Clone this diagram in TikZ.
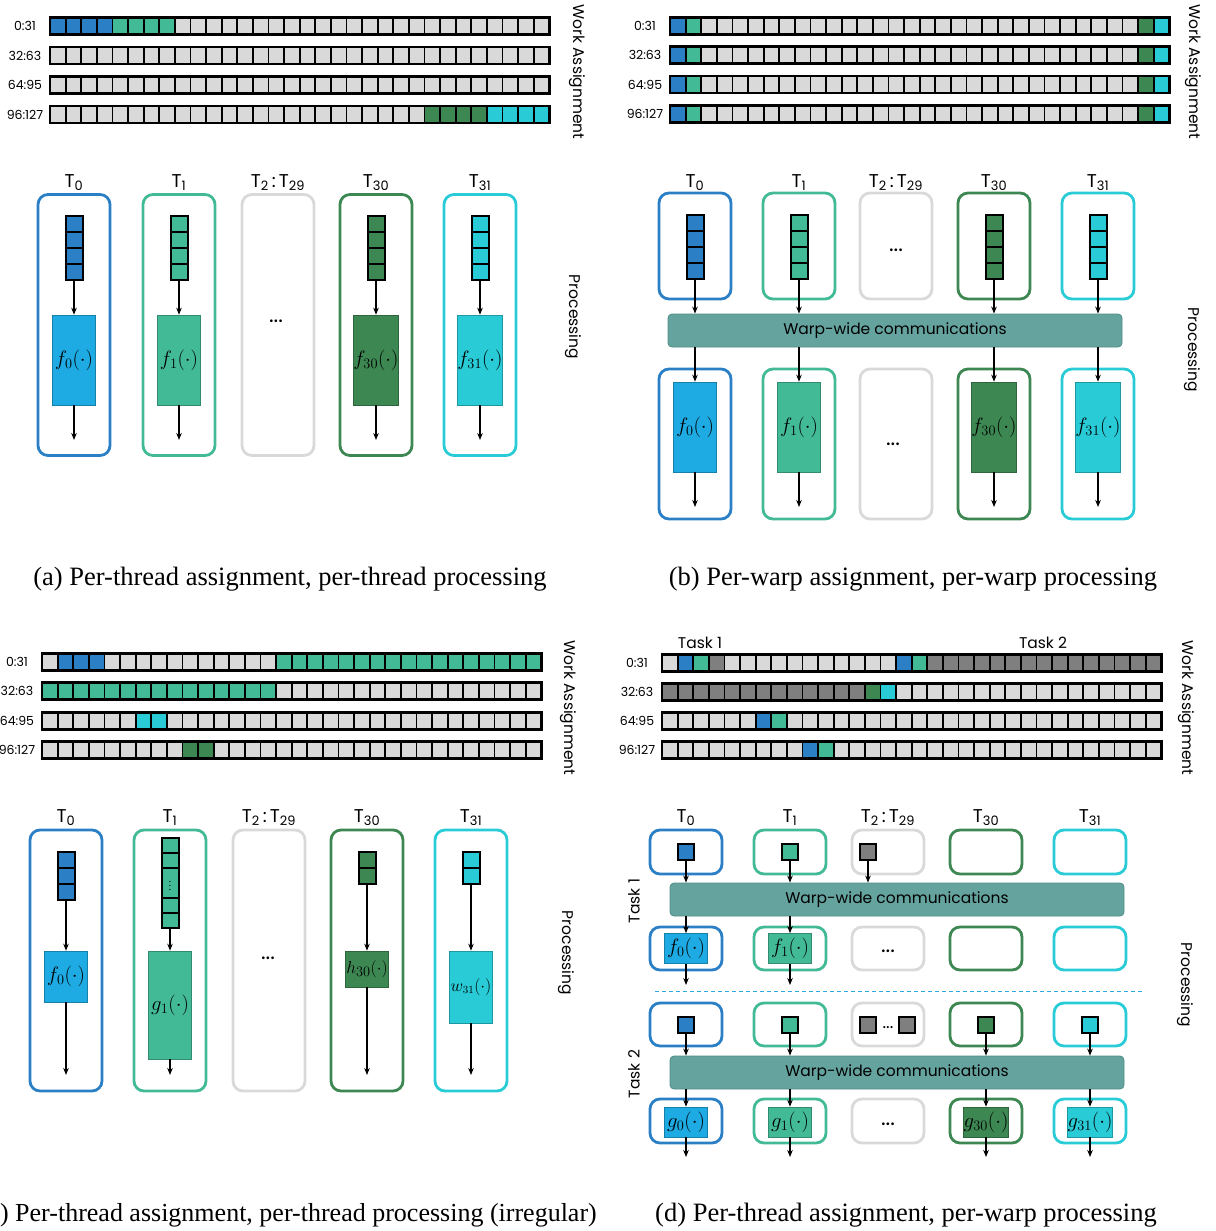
\documentclass[tikz,border=0pt]{standalone}
\usepackage{fontspec}
\setmainfont{Liberation Serif}
\newfontfamily\gfont{Poppins}
\usepackage{amsmath}
\usepackage{xcolor}
\usetikzlibrary{arrows.meta}
\definecolor{thblue}{HTML}{2A7FC5}
\definecolor{thsky}{HTML}{1EAAE2}
\definecolor{thteal}{HTML}{43BA96}
\definecolor{thgreen}{HTML}{3D8752}
\definecolor{thcyan}{HTML}{28CBD6}
\definecolor{thgrey}{HTML}{D9D9D9}
\definecolor{thdark}{HTML}{7F7F7F}
\definecolor{warpfill}{HTML}{65A39F}
\definecolor{warpedge}{HTML}{4F8D88}
\definecolor{dashblue}{HTML}{2AA8E0}
% one row of 32 work items: name, left x, centre y, label, coloured runs a/b/colour
\newcommand{\workbar}[5]{%
  \node[rowlab] (#1lab) at (#2-25,#3) {#4};
  \foreach \i in {0,...,31}
    \node[wcell] (#1c\i) at ({#2+7.8+15.6*\i},#3) {};
  \foreach \a/\b/\c in {#5}
    \foreach \i in {\a,...,\b}
      \node[wcell, fill=\c] (#1c\i) at ({#2+7.8+15.6*\i},#3) {};
  \draw[barframe] (#1c0.north west) rectangle (#1c31.south east);
}

\begin{document}
\begin{tikzpicture}[x=1pt, y=-1pt,
  wcell/.style={rectangle, draw=black, line width=1.8pt, fill=thgrey, minimum width=15.6pt,
                minimum height=17pt, inner sep=0pt, outer sep=0pt},
  barframe/.style={draw=black, line width=2.6pt},
  rowlab/.style={font=\gfont\fontsize{12.5}{13}\selectfont, inner sep=0pt},
  sidelab/.style={font=\gfont\fontsize{15.5}{16}\selectfont, inner sep=0pt},
  tlab/.style={font=\gfont\fontsize{18.5}{19}\selectfont, anchor=base, inner sep=0pt},
  tframe/.style={draw, rounded corners=10pt, line width=2.8pt, minimum width=72pt, inner sep=0pt},
  ucell/.style={draw=black, line width=2pt, minimum width=17pt, minimum height=16pt,
                inner sep=0pt, outer sep=0pt},
  fbox/.style={draw=#1!75!black, fill=#1, line width=0.6pt, minimum width=43pt, inner sep=0pt},
  fbig/.style={font=\fontsize{21}{21}\selectfont},
  fsmall/.style={font=\fontsize{20}{20}\selectfont},
  warp/.style={draw=warpedge, fill=warpfill, rounded corners=4pt, line width=0.8pt,
               minimum width=454pt, minimum height=33pt, font=\gfont\fontsize{15.5}{16}\selectfont},
  arr/.style={-{Stealth[length=7pt, width=5.5pt]}, line width=1.3pt},
  dots/.style={font=\gfont\fontsize{22}{22}\selectfont, inner sep=0pt},
  dashline/.style={dashblue, line width=1pt, dash pattern=on 4pt off 3pt},
  caption/.style={font=\fontsize{26.5}{30}\selectfont, inner sep=0pt},
]
\useasboundingbox (0,0) rectangle (1215,1231);

% (a) per-thread assignment, per-thread processing
\workbar{aR0}{50}{26}{0:31}{0/3/thblue, 4/7/thteal}
\workbar{aR1}{50}{55.5}{32:63}{0/0/thgrey}
\workbar{aR2}{50}{85}{64:95}{0/0/thgrey}
\workbar{aR3}{50}{114.5}{96:127}{24/27/thgreen, 28/31/thcyan}
\node[sidelab, rotate=-90] (aWA) at (577,72) {Work Assignment};
\node[sidelab, rotate=-90] (aPR) at (573,317) {Processing};
\foreach \n/\x/\c/\fc/\f/\s in {0/74/thblue/thsky/f_0/fbig, 1/179/thteal/thteal/f_1/fbig,
    30/376/thgreen/thgreen/f_{30}/fsmall, 31/480/thcyan/thcyan/f_{31}/fsmall} {
  \node[tlab] (aT\n) at (\x,187) {T\textsubscript{\n}};
  \node[tframe, draw=\c, minimum height=261pt] (aF\n) at (\x,325) {};
  \foreach \k in {0,...,3}
    \node[ucell, fill=\c] (aS\n-\k) at (\x,{224+16*\k}) {};
  \node[fbox=\fc, \s, minimum height=90pt] (aP\n) at (\x,360) {$\f(\cdot)$};
  \coordinate (aE\n) at (\x,440);
  \draw[arr] (aS\n-3.south) -- (aP\n.north);
  \draw[arr] (aP\n.south) -- (aE\n);
}
\node[tlab] (aT2) at (278,187) {T\textsubscript{2}\,:\,T\textsubscript{29}};
\node[tframe, draw=thgrey, minimum height=261pt] (aF2) at (278,325) {};
\node[dots] (aD2) at (276,321) {...};
\node[caption] (aCap) at (290,579) {(a) Per-thread assignment, per-thread processing};

% (b) per-warp assignment, per-warp processing
\workbar{bR0}{670}{26}{0:31}{0/0/thblue, 1/1/thteal, 30/30/thgreen, 31/31/thcyan}
\workbar{bR1}{670}{55}{32:63}{0/0/thblue, 1/1/thteal, 30/30/thgreen, 31/31/thcyan}
\workbar{bR2}{670}{84.5}{64:95}{0/0/thblue, 1/1/thteal, 30/30/thgreen, 31/31/thcyan}
\workbar{bR3}{670}{114}{96:127}{0/0/thblue, 1/1/thteal, 30/30/thgreen, 31/31/thcyan}
\node[sidelab, rotate=-90] (bWA) at (1193,72) {Work Assignment};
\node[sidelab, rotate=-90] (bPR) at (1192,350) {Processing};
\node[warp] (bW) at (895,330.5) {Warp-wide communications};
\foreach \n/\x/\c/\fc/\f/\s in {0/695/thblue/thsky/f_0/fbig, 1/799/thteal/thteal/f_1/fbig,
    30/994/thgreen/thgreen/f_{30}/fsmall, 31/1098/thcyan/thcyan/f_{31}/fsmall} {
  \node[tlab] (bT\n) at (\x,187) {T\textsubscript{\n}};
  \node[tframe, draw=\c, minimum height=106pt] (bF\n) at (\x,246) {};
  \foreach \k in {0,...,3}
    \node[ucell, fill=\c] (bS\n-\k) at (\x,{223+16*\k}) {};
  \node[tframe, draw=\c, minimum height=150pt] (bG\n) at (\x,444) {};
  \node[fbox=\fc, \s, minimum height=90pt] (bP\n) at (\x,427) {$\f(\cdot)$};
  \coordinate (bE\n) at (\x,507);
  \draw[arr] (bS\n-3.south) -- (bS\n-3.south |- bW.north);
  \draw[arr] (bP\n.north |- bW.south) -- (bP\n.north);
  \draw[arr] (bP\n.south) -- (bE\n);
}
\node[tlab] (bT2) at (896,187) {T\textsubscript{2}\,:\,T\textsubscript{29}};
\node[tframe, draw=thgrey, minimum height=106pt] (bF2) at (896,246) {};
\node[tframe, draw=thgrey, minimum height=150pt] (bG2) at (896,444) {};
\node[dots] (bD2) at (896,250) {...};
\node[dots] (bD3) at (893,444) {...};
\node[caption] (bCap) at (913,579) {(b) Per-warp assignment, per-warp processing};

% (c) per-thread processing, irregular work
\workbar{cR0}{42}{662}{0:31}{1/3/thblue, 15/31/thteal}
\workbar{cR1}{42}{691}{32:63}{0/14/thteal}
\workbar{cR2}{42}{721}{64:95}{6/7/thcyan}
\workbar{cR3}{42}{750}{96:127}{9/10/thgreen}
\node[sidelab, rotate=-90] (cWA) at (568,708) {Work Assignment};
\node[sidelab, rotate=-90] (cPR) at (566,953) {Processing};
\foreach \n/\x/\c in {0/66/thblue, 1/170/thteal, 30/367/thgreen, 31/471/thcyan} {
  \node[tlab] (cT\n) at (\x,822) {T\textsubscript{\n}};
  \node[tframe, draw=\c, minimum height=261pt] (cF\n) at (\x,960.5) {};
  \coordinate (cE\n) at (\x,1075);
}
\node[tlab] (cT2) at (269,822) {T\textsubscript{2}\,:\,T\textsubscript{29}};
\node[tframe, draw=thgrey, minimum height=261pt] (cF2) at (269,960.5) {};
\node[dots] (cD2) at (268,958) {...};
% T0: three items
\foreach \k in {0,1,2}
  \node[ucell, fill=thblue] (cS0-\k) at (66,{860+16*\k}) {};
\node[fbox=thsky, fbig, minimum height=51pt] (cP0) at (66,976.5) {$f_0(\cdot)$};
\draw[arr] (cS0-2.south) -- (cP0.north);
\draw[arr] (cP0.south) -- (cE0);
% T1: long list
\node[ucell, fill=thteal, minimum height=15pt] (cS1-0) at (170,845.5) {};
\node[ucell, fill=thteal, minimum height=15pt] (cS1-1) at (170,860.5) {};
\node[ucell, fill=thteal, minimum height=30pt] (cS1-2) at (170,883) {};
\node[font=\fontsize{11}{11}\selectfont, inner sep=0pt] (cV1) at (cS1-2) {$\vdots$};
\node[ucell, fill=thteal, minimum height=15pt] (cS1-3) at (170,905.5) {};
\node[ucell, fill=thteal, minimum height=15pt] (cS1-4) at (170,920.5) {};
\node[fbox=thteal, fbig, minimum height=108pt] (cP1) at (170,1005) {$g_1(\cdot)$};
\draw[arr] (cS1-4.south) -- (cP1.north);
\draw[arr] (cP1.south) -- (cE1);
% T30 and T31: two items
\foreach \k in {0,1} {
  \node[ucell, fill=thgreen] (cS30-\k) at (367,{860+16*\k}) {};
  \node[ucell, fill=thcyan] (cS31-\k) at (471,{860+16*\k}) {};
}
\node[fbox=thgreen, minimum height=36pt, font=\fontsize{19}{19}\selectfont] (cP30) at (367,969) {$h_{30}(\cdot)$};
\node[fbox=thcyan, minimum height=72pt, font=\fontsize{16}{16}\selectfont] (cP31) at (471,987) {$w_{31}(\cdot)$};
\draw[arr] (cS30-1.south) -- (cP30.north);
\draw[arr] (cP30.south) -- (cE30);
\draw[arr] (cS31-1.south) -- (cP31.north);
\draw[arr] (cP31.south) -- (cE31);
\node[caption, anchor=east, font=\fontsize{26}{30}\selectfont] (cCap) at (597,1215) {(c) Per-thread assignment, per-thread processing (irregular)};

% (d) per-thread assignment, per-warp processing
\workbar{dR0}{662}{663}{0:31}{1/1/thblue, 2/2/thteal, 3/3/thdark, 15/15/thblue, 16/16/thteal, 17/31/thdark}
\workbar{dR1}{662}{692}{32:63}{0/12/thdark, 13/13/thgreen, 14/14/thcyan}
\workbar{dR2}{662}{721}{64:95}{6/6/thblue, 7/7/thteal}
\workbar{dR3}{662}{750}{96:127}{9/9/thblue, 10/10/thteal}
\node[sidelab] (dK1) at (700,643) {Task 1};
\node[sidelab] (dK2) at (1043,643) {Task 2};
\node[sidelab, rotate=-90] (dWA) at (1186,708) {Work Assignment};
\node[sidelab, rotate=-90] (dPR) at (1185,985) {Processing};
\node[sidelab, rotate=90] (dL1) at (634,901) {Task 1};
\node[sidelab, rotate=90] (dL2) at (634,1074) {Task 2};
\foreach \n/\x/\c in {0/686/thblue, 1/790/thteal, 2/888/thgrey, 30/986/thgreen, 31/1090/thcyan} {
  \node[tframe, draw=\c, minimum height=44pt] (dA\n) at (\x,852) {};
  \node[tframe, draw=\c, minimum height=43pt] (dB\n) at (\x,948.5) {};
  \node[tframe, draw=\c, minimum height=43pt] (dC\n) at (\x,1024.5) {};
  \node[tframe, draw=\c, minimum height=44pt] (dD\n) at (\x,1121) {};
}
\node[tlab] (dT0) at (686,822) {T\textsubscript{0}};
\node[tlab] (dT1) at (790,822) {T\textsubscript{1}};
\node[tlab] (dT2) at (888,822) {T\textsubscript{2}\,:\,T\textsubscript{29}};
\node[tlab] (dT30) at (986,822) {T\textsubscript{30}};
\node[tlab] (dT31) at (1090,822) {T\textsubscript{31}};
\node[warp] (dW1) at (897,899.5) {Warp-wide communications};
\node[warp] (dW2) at (897,1072.5) {Warp-wide communications};
% task 1
\node[ucell, fill=thblue, minimum width=16pt] (dQ0) at (686,852) {};
\node[ucell, fill=thteal, minimum width=16pt] (dQ1) at (790,852) {};
\node[ucell, fill=thdark, minimum width=16pt] (dQ2) at (868,852) {};
\foreach \n in {0,1,2}
  \draw[arr] (dQ\n.south) -- (dQ\n.south |- dW1.north);
\node[fbox=thsky, fbig, minimum height=30pt] (dP0) at (686,948.5) {$f_0(\cdot)$};
\node[fbox=thteal, fbig, minimum height=30pt] (dP1) at (790,948.5) {$f_1(\cdot)$};
\node[dots] (dD1) at (888,951) {...};
\foreach \n/\x in {0/686, 1/790} {
  \coordinate (dE\n) at (\x,985);
  \draw[arr] (dP\n.north |- dW1.south) -- (dP\n.north);
  \draw[arr] (dP\n.south) -- (dE\n);
}
\coordinate (dashL) at (655,991);
\coordinate (dashR) at (1145,991);
\draw[dashline] (dashL) -- (dashR);
% task 2
\node[ucell, fill=thdark, minimum width=16pt] (dU2a) at (868,1025) {};
\node[ucell, fill=thdark, minimum width=16pt] (dU2b) at (907,1025) {};
\node[dots, font=\gfont\fontsize{17}{17}\selectfont] (dD2) at (888,1028) {...};
\node[dots] (dD3) at (888,1124) {...};
\foreach \n/\x/\c/\fc/\f/\s in {0/686/thblue/thsky/g_0/fbig, 1/790/thteal/thteal/g_1/fbig,
    30/986/thgreen/thgreen/g_{30}/fsmall, 31/1090/thcyan/thcyan/g_{31}/fsmall} {
  \node[ucell, fill=\c, minimum width=16pt] (dU\n) at (\x,1025) {};
  \node[fbox=\fc, \s, minimum height=30pt] (dG\n) at (\x,1122) {$\f(\cdot)$};
  \coordinate (dF\n) at (\x,1157);
  \draw[arr] (dU\n.south) -- (dU\n.south |- dW2.north);
  \draw[arr] (dG\n.north |- dW2.south) -- (dG\n.north);
  \draw[arr] (dG\n.south) -- (dF\n);
}
\node[caption] (dCap) at (906,1215) {(d) Per-thread assignment, per-warp processing};
\end{tikzpicture}
\end{document}
